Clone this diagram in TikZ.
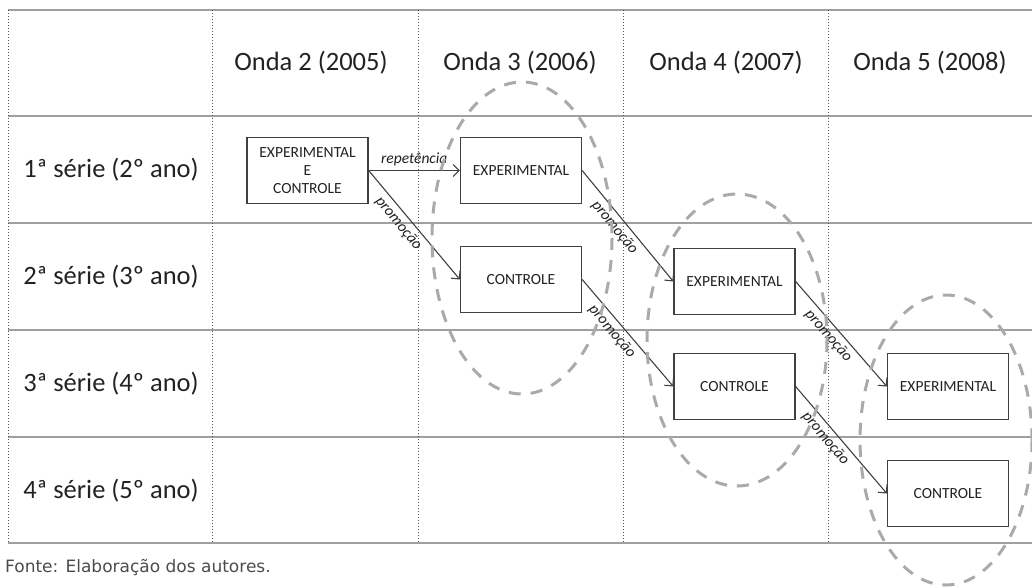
\documentclass[tikz,border=0pt]{standalone}
\usepackage{fontspec}
\setmainfont{Carlito}
\newfontfamily\footfont{DejaVu Sans}
\usetikzlibrary{arrows.meta}
\definecolor{hline}{HTML}{A0A0A0}
\definecolor{vline}{HTML}{555555}
\definecolor{boxc}{HTML}{404040}
\definecolor{txt}{HTML}{222222}
\definecolor{ell}{HTML}{AAAAAA}
\tikzset{
  grp/.style={draw=boxc, line width=1.3pt, minimum width=121pt, minimum height=66pt, inner sep=0pt,
    font=\fontsize{15.5}{18}\selectfont, text=txt, align=center},
  hdr/.style={font=\fontsize{26.5}{30}\selectfont, text=txt},
  hrule/.style={draw=hline, line width=2pt},
  vrule/.style={draw=vline, line width=1pt, dotted},
  flow/.style={draw=boxc, line width=1.1pt, -{Straight Barb[length=6pt,width=12pt,line width=1.1pt]}},
  lbl/.style={font=\fontsize{15.5}{15.5}\selectfont\itshape, text=txt, inner sep=4pt},
  ellip/.style={draw=ell, line width=3pt, dash pattern=on 12pt off 10pt}
}
\begin{document}
\begin{tikzpicture}[x=1pt,y=-1pt]
\useasboundingbox (0,0) rectangle (1032,587);
% grid
\foreach \yy in {10,116,223,330,437,543} \draw[hrule] (8,\yy) -- (1032,\yy);
\foreach \xx in {8,212,418,623,828} \draw[vrule] (\xx,10) -- (\xx,543);
% headers
\node[hdr] (h2) at (311,63) {Onda 2 (2005)};
\node[hdr] (h3) at (520,63) {Onda 3 (2006)};
\node[hdr] (h4) at (726,63) {Onda 4 (2007)};
\node[hdr] (h5) at (930,63) {Onda 5 (2008)};
\node[hdr] (r1) at (111,170) {1ª série (2º ano)};
\node[hdr] (r2) at (111,277) {2ª série (3º ano)};
\node[hdr] (r3) at (111,384) {3ª série (4º ano)};
\node[hdr] (r4) at (111,491) {4ª série (5º ano)};
% boxes
\node[grp] (A) at (307.5,170.5) {EXPERIMENTAL\\E\\CONTROLE};
\node[grp] (B) at (521,170.5) {EXPERIMENTAL};
\node[grp] (C) at (521,279.5) {CONTROLE};
\node[grp] (D) at (734.5,281.5) {EXPERIMENTAL};
\node[grp] (E) at (734.5,386.5) {CONTROLE};
\node[grp] (F) at (948,386.5) {EXPERIMENTAL};
\node[grp] (G) at (948,493.5) {CONTROLE};
% arrows
\draw[flow] (A.east) -- node[lbl, above, pos=0.5] {repetência} (B.west);
\draw[flow] (A.east) -- node[lbl, sloped, below, pos=0.42] {promoção} (C.west);
\draw[flow] (B.east) -- node[lbl, sloped, below, pos=0.45] {promoção} (D.west);
\draw[flow] (C.east) -- node[lbl, sloped, below, pos=0.42] {promoção} (E.west);
\draw[flow] (D.east) -- node[lbl, sloped, below, pos=0.45] {promoção} (F.west);
\draw[flow] (E.east) -- node[lbl, sloped, below, pos=0.42] {promoção} (G.west);
% groups
\draw[ellip] (522,238) ellipse [x radius=90, y radius=156];
\draw[ellip] (737,340) ellipse [x radius=90, y radius=146];
\draw[ellip] (946,440) ellipse [x radius=86, y radius=145];
% footer
\node[anchor=west, font=\footfont\fontsize{17}{17}\selectfont, text=black!70, inner sep=0pt] (src) at (5,568) {Fonte: Elaboração dos autores.};
\end{tikzpicture}
\end{document}
